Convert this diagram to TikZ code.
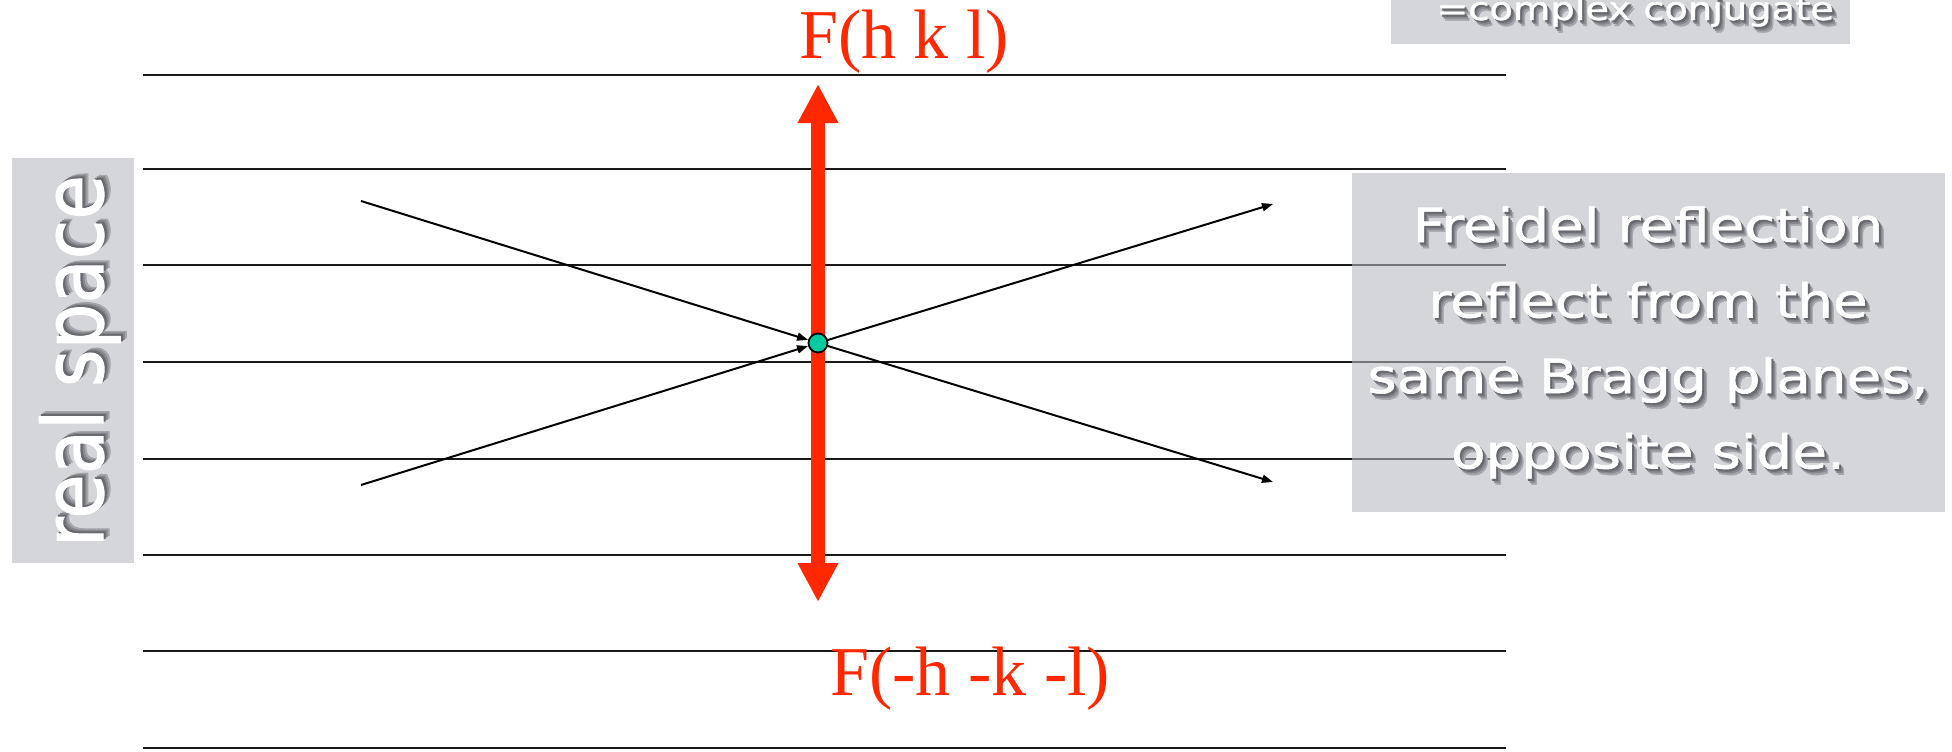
\documentclass[tikz,border=0pt]{standalone}
\usepackage{fontspec}
\setmainfont{Liberation Serif}
\newfontfamily\chalk[FakeStretch=1.2,FakeBold=1.2]{DejaVu Sans}
\newfontfamily\chalknarrow[FakeStretch=0.86,FakeBold=1.2]{DejaVu Sans}
\usetikzlibrary{arrows.meta}
\definecolor{fred}{RGB}{255,40,0}
\definecolor{dotteal}{RGB}{0,204,160}
\definecolor{boxgray}{RGB}{182,184,191}
\definecolor{shadowA}{RGB}{165,166,171}
\definecolor{shadowM}{RGB}{135,136,141}
\definecolor{shadowB}{RGB}{105,106,111}
\newcommand{\shd}[1]{\leavevmode\rlap{\kern5pt\raisebox{-6pt}{\color{shadowA}#1}}\rlap{\kern3.5pt\raisebox{-4pt}{\color{shadowM}#1}}\rlap{\kern2pt\raisebox{-2.2pt}{\color{shadowB}#1}}{\color{white}#1}}
\tikzset{
  plane/.style={line width=2.5pt, black!90},
  ray/.style={line width=2pt, black, -{Triangle[length=11pt,width=8pt]}},
  redarrow/.style={line width=14pt, fred, {Triangle[width=38pt,length=39pt]}-{Triangle[width=38pt,length=39pt]}},
  dotnode/.style={circle, draw=black, line width=1.8pt, fill=dotteal, minimum size=19pt, inner sep=0pt},
  graybox/.style={fill=boxgray, fill opacity=0.58, draw=none, inner sep=0pt, anchor=north west},
  flabel/.style={text=fred, font=\fontsize{70}{84}\selectfont, inner sep=0pt, anchor=base west}
}
\begin{document}
\begin{tikzpicture}[x=1pt,y=-1pt]
\useasboundingbox (0,0) rectangle (1952,752);
% Bragg planes
\foreach \yy in {75,169,265,362,459,555,651,748}
  \draw[plane] (143,\yy) -- (1506,\yy);
% red double arrow
\coordinate (top) at (818,84);
\coordinate (bot) at (818,602);
\draw[redarrow] (bot) -- (top);
% rays
\node[dotnode] (c) at (818,343) {};
\coordinate (a1) at (361,201);
\coordinate (a2) at (361,485);
\coordinate (b1) at (1273,482);
\coordinate (b2) at (1273,204);
\draw[ray] (a1) -- (c);
\draw[ray] (a2) -- (c);
\draw[ray] (c) -- (b1);
\draw[ray] (c) -- (b2);
% labels
\node[flabel] (fhkl) at (799,59) {F(h k l)};
\node[flabel] (fmhkl) at (830,695) {F(-h -k -l)};
% boxes
\node[graybox, minimum width=593pt, minimum height=339pt] (rbox) at (1352,173) {};
\node[graybox, minimum width=122pt, minimum height=405pt] (lbox) at (12,158) {};
\node[graybox, minimum width=459pt, minimum height=44pt] (tbox) at (1391,0) {};
% texts
\node[inner sep=0pt, align=center, font=\chalk\fontsize{47}{75.5}\selectfont] (rtext) at (1648,345.3)
  {\shd{Freidel reflection}\\\shd{reflect from the}\\\shd{same Bragg planes,}\\\shd{opposite side.}};
\node[inner sep=0pt, anchor=base, rotate=90, font=\chalknarrow\fontsize{84}{100}\selectfont] (ltext) at (103,361) {\shd{real space}};
\node[inner sep=0pt, anchor=base, font=\chalk\fontsize{32}{38}\selectfont] (ttext) at (1635,20) {\shd{=complex conjugate}};
\end{tikzpicture}
\end{document}
